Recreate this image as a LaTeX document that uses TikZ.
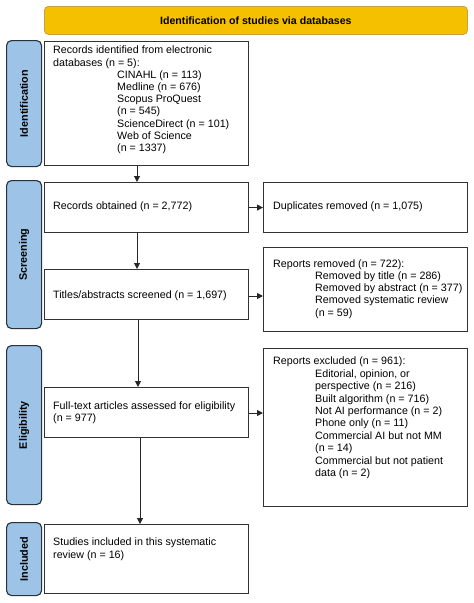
\documentclass[tikz,border=0pt]{standalone}
\usepackage{fontspec}
\setmainfont{Liberation Sans}
\usetikzlibrary{arrows.meta}
\definecolor{banner}{RGB}{245,192,0}
\definecolor{bannerline}{RGB}{200,160,60}
\definecolor{phase}{RGB}{157,195,230}
\definecolor{phaseline}{RGB}{40,50,60}
\definecolor{boxline}{RGB}{50,50,50}
\begin{document}
\begin{tikzpicture}[x=1pt,y=-1pt,
  box/.style={draw=boxline,line width=1.1pt,fill=white,anchor=north west,inner sep=0pt},
  txt/.style={anchor=north west,align=left,inner sep=0pt,font=\fontsize{10.7}{12.2}\selectfont},
  phasebox/.style={draw=phaseline,fill=phase,line width=1.1pt,rounded corners=5pt,anchor=north west,inner sep=0pt},
  phasetxt/.style={rotate=90,font=\fontsize{10.8}{12}\selectfont\bfseries},
  arr/.style={draw=black!85,line width=1pt,-{Triangle[length=6pt,width=6pt]}}]
\useasboundingbox (0,0) rectangle (474,603);
% banner
\node[draw=bannerline,fill=banner,line width=0.8pt,rounded corners=4pt,anchor=north west,minimum width=423pt,minimum height=28pt,inner sep=0pt,font=\fontsize{10.6}{12}\selectfont\bfseries] (banner) at (44,6) {Identification of studies via databases};
% phase labels
\node[phasebox,minimum width=35pt,minimum height=126pt] (pid) at (6,40) {};
\node[phasetxt] at (pid.center) {Identification};
\node[phasebox,minimum width=35pt,minimum height=148pt] (psc) at (6,180) {};
\node[phasetxt] at (psc.center) {Screening};
\node[phasebox,minimum width=35pt,minimum height=159pt] (pel) at (6,345) {};
\node[phasetxt] at (pel.center) {Eligibility};
\node[phasebox,minimum width=35pt,minimum height=73pt] (pin) at (6,522) {};
\node[phasetxt] at (pin.center) {Included};
% boxes
\node[box,minimum width=204pt,minimum height=124pt] (b1) at (44,41) {};
\node[txt] (t1) at (53,46) {Records identified from electronic\\databases (n = 5):\\
\hspace*{64pt}CINAHL (n = 113)\\
\hspace*{64pt}Medline (n = 676)\\
\hspace*{64pt}Scopus ProQuest\\
\hspace*{64pt}(n = 545)\\
\hspace*{64pt}ScienceDirect (n = 101)\\
\hspace*{64pt}Web of Science\\
\hspace*{64pt}(n = 1337)};
\node[box,minimum width=204pt,minimum height=50pt] (b2) at (44,182) {};
\node[txt,anchor=west] (t2) at (53,207) {Records obtained (n = 2,772)};
\node[box,minimum width=204pt,minimum height=50pt] (d1) at (263,182) {};
\node[txt,anchor=west] (td1) at (273,207) {Duplicates removed (n = 1,075)};
\node[box,minimum width=204pt,minimum height=50pt] (b3) at (44,269) {};
\node[txt,anchor=west] (t3) at (53,296) {Titles/abstracts screened (n = 1,697)};
\node[box,minimum width=204pt,minimum height=84pt] (d2) at (263,247) {};
\node[txt,anchor=west] (td2) at (273,289) {Reports removed (n = 722):\\
\hspace*{42pt}Removed by title (n = 286)\\
\hspace*{42pt}Removed by abstract (n = 377)\\
\hspace*{42pt}Removed systematic review\\
\hspace*{42pt}(n = 59)};
\node[box,minimum width=204pt,minimum height=50pt] (b4) at (44,387) {};
\node[txt,anchor=west] (t4) at (53,413) {Full-text articles assessed for eligibility\\(n = 977)};
\node[box,minimum width=204pt,minimum height=158pt] (d3) at (263,348) {};
\node[txt,font=\fontsize{10.7}{12.4}\selectfont] (td3) at (273,357) {Reports excluded (n = 961):\\
\hspace*{42pt}Editorial, opinion, or\\
\hspace*{42pt}perspective (n = 216)\\
\hspace*{42pt}Built algorithm (n = 716)\\
\hspace*{42pt}Not AI performance (n = 2)\\
\hspace*{42pt}Phone only (n = 11)\\
\hspace*{42pt}Commercial AI but not MM\\
\hspace*{42pt}(n = 14)\\
\hspace*{42pt}Commercial but not patient\\
\hspace*{42pt}data (n = 2)};
\node[box,minimum width=204pt,minimum height=69pt] (b5) at (44,524) {};
\node[txt] (t5) at (53,538) {Studies included in this systematic\\review (n = 16)};
% arrows
\draw[arr] (b1.south -| 137,0) -- (b2.north -| 137,0);
\draw[arr] (b2.south -| 137,0) -- (b3.north -| 137,0);
\draw[arr] (b3.south -| 138,0) -- (b4.north -| 138,0);
\draw[arr] (b4.south -| 140,0) -- (b5.north -| 140,0);
\draw[arr] (b2.east) -- (d1.west);
\draw[arr] (b3.east |- 0,296) -- (d2.west |- 0,296);
\draw[arr] (b4.east |- 0,413) -- (d3.west |- 0,413);
\end{tikzpicture}
\end{document}
